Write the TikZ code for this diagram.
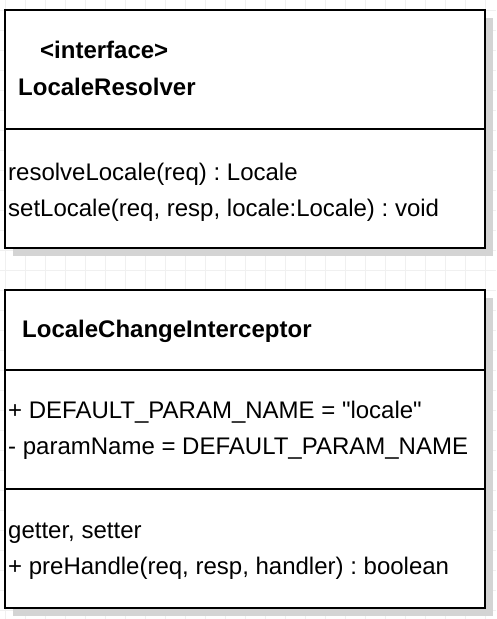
\documentclass[tikz,border=0pt]{standalone}
\usepackage{fontspec}
\setmainfont{Liberation Sans}[Ligatures=TeXOff]
\usetikzlibrary{positioning}
\frenchspacing

\begin{document}
\begin{tikzpicture}[x=1pt, y=-1pt,
  classbox/.style={draw=black, line width=2pt, fill=white},
  shadowbox/.style={fill=black!17},
  gridline/.style={draw=black!6, line width=1pt},
  member/.style={anchor=base west, inner sep=0pt, font=\fontsize{24}{28}\selectfont},
  title/.style={member, font=\fontsize{24}{28}\selectfont\bfseries}]
  \useasboundingbox[fill=white] (0,0) rectangle (496,619);
  \foreach \i in {5,25,...,495} \draw[gridline] (\i,0) -- (\i,619);
  \foreach \j in {10,30,...,610} \draw[gridline] (0,\j) -- (496,\j);

  % LocaleResolver
  \fill[shadowbox] (13,18) rectangle (493,256);
  \draw[classbox] (5,10) rectangle (485,248);
  \draw[classbox] (5,129) -- (485,129);
  \node[title] (stereo) at (40,58) {<interface>};
  \node[title] (resolver) at (18,95) {LocaleResolver};
  \node[member] (resolve) at (8,180) {resolveLocale(req) : Locale};
  \node[member, below=36pt of resolve.base west, anchor=base west] (setloc) {setLocale(req, resp, locale:Locale) : void};

  % LocaleChangeInterceptor
  \fill[shadowbox] (13,298) rectangle (493,616);
  \draw[classbox] (5,290) rectangle (485,608);
  \draw[classbox] (5,370) -- (485,370);
  \draw[classbox] (5,489) -- (485,489);
  \node[title] (interceptor) at (22,337) {LocaleChangeInterceptor};
  \node[member] (default) at (8,418) {+ DEFAULT\_PARAM\_NAME = "locale"};
  \node[member, below=36pt of default.base west, anchor=base west] (param) {- paramName = DEFAULT\_PARAM\_NAME};
  \node[member] (getset) at (8,538) {getter, setter};
  \node[member, below=36pt of getset.base west, anchor=base west] (prehandle) {+ preHandle(req, resp, handler) : boolean};
\end{tikzpicture}
\end{document}
